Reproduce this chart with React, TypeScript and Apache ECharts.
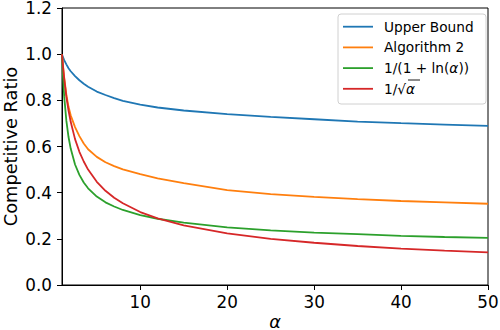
import React, { useEffect, useRef } from "react";
import * as echarts from "echarts";

const alphaValues = [1, 1.1, 1.25, 1.5, 1.75, 2, 2.5, 3, 3.5, 4, 5, 6, 7, 8, 10, 12, 15, 20, 25, 30, 35, 40, 45, 50];
const upperBound = [1.0, 0.988, 0.974, 0.956, 0.939, 0.926, 0.905, 0.887, 0.872, 0.859, 0.838, 0.823, 0.81, 0.798, 0.781, 0.769, 0.756, 0.74, 0.728, 0.718, 0.708, 0.701, 0.695, 0.689];
const algorithm2 = [1.0, 0.955, 0.9, 0.825, 0.772, 0.735, 0.684, 0.645, 0.613, 0.588, 0.555, 0.532, 0.515, 0.501, 0.48, 0.462, 0.441, 0.411, 0.394, 0.382, 0.372, 0.364, 0.358, 0.352];
const logBound = [1.0, 0.913, 0.818, 0.712, 0.641, 0.591, 0.522, 0.477, 0.444, 0.419, 0.383, 0.358, 0.34, 0.325, 0.303, 0.287, 0.27, 0.25, 0.237, 0.227, 0.22, 0.213, 0.208, 0.204];
const sqrtBound = [1.0, 0.953, 0.894, 0.816, 0.756, 0.707, 0.632, 0.577, 0.535, 0.5, 0.447, 0.408, 0.378, 0.354, 0.316, 0.289, 0.258, 0.224, 0.2, 0.183, 0.169, 0.158, 0.149, 0.141];

const xTicks = [10, 20, 30, 40, 50];
const seriesNames = ["Upper Bound", "Algorithm 2", "1/(1 + ln(α))", "1/√α"];
const seriesColors = ["#1f77b4", "#ff7f0e", "#2ca02c", "#d62728"];
const seriesValues = [upperBound, algorithm2, logBound, sqrtBound];

const FONT = "DejaVu Sans";
const LEG_FS = 13.7;

export default function App() {
  const ref = useRef<HTMLDivElement>(null);
  useEffect(() => {
    if (!ref.current) return;
    const chart = echarts.init(ref.current, undefined, { renderer: "svg" });

    const legendX = 338;
    const legendY = 14;
    const rowH = 20.7;
    const firstRow = 26.7;
    const legendGraphics: any[] = [
      {
        type: "rect",
        shape: { x: legendX, y: legendY, width: 148, height: 90, r: 3 },
        style: { fill: "rgba(255,255,255,0.8)", stroke: "#d0d0d0", lineWidth: 1 },
        z: 10,
      },
    ];
    seriesNames.forEach((name, i) => {
      const cy = firstRow + i * rowH;
      legendGraphics.push({
        type: "line",
        shape: { x1: 343, y1: cy, x2: 373, y2: cy },
        style: { stroke: seriesColors[i], lineWidth: 1.8 },
        z: 11,
      });
      let text = name;
      if (i === 2) text = "{n|1/(1 + ln(}{i|α}{n|))}";
      if (i === 3) text = "{n|1/√}{i|α}";
      legendGraphics.push({
        type: "text",
        x: 384,
        y: cy,
        style: {
          text,
          fill: "#000",
          fontFamily: FONT,
          fontSize: LEG_FS,
          verticalAlign: "middle",
          align: "left",
          rich: {
            n: { fontFamily: FONT, fontSize: LEG_FS, fill: "#000" },
            i: { fontFamily: FONT, fontSize: LEG_FS, fontStyle: "italic", fill: "#000" },
          },
        },
        z: 11,
      });
    });
    const sqY = firstRow + 3 * rowH - 8.8;
    legendGraphics.push({
      type: "line",
      shape: { x1: 408, y1: sqY, x2: 420, y2: sqY },
      style: { stroke: "#000", lineWidth: 0.9 },
      z: 11,
    });

    chart.setOption({
      animation: false,
      backgroundColor: "#fff",
      grid: {
        left: 62,
        right: 12,
        top: 8,
        bottom: 45,
        containLabel: false,
        outerBoundsMode: "none",
        show: true,
        borderColor: "#000",
        borderWidth: 1,
        backgroundColor: "transparent",
      },
      xAxis: {
        type: "value",
        min: 1,
        max: 50,
        name: "α",
        nameLocation: "middle",
        nameGap: 29,
        nameMoveOverlap: false,
        nameTextStyle: { fontFamily: FONT, fontSize: 17.8, lineHeight: 15, fontStyle: "italic", color: "#000" },
        axisLine: { show: true, lineStyle: { color: "#000", width: 1 } },
        axisTick: { show: true, length: 5, lineStyle: { color: "#000", width: 1 }, customValues: xTicks },
        axisLabel: {
          fontFamily: FONT,
          fontSize: 16.8,
          color: "#000",
          margin: 8,
          customValues: xTicks,
        },
        splitLine: { show: false },
      },
      yAxis: {
        type: "value",
        min: 0,
        max: 1.2,
        interval: 0.2,
        name: "Competitive Ratio",
        nameLocation: "middle",
        nameGap: 43,
        nameMoveOverlap: false,
        nameTextStyle: { fontFamily: FONT, fontSize: 17.8, lineHeight: 18, color: "#000" },
        axisLine: { show: true, lineStyle: { color: "#000", width: 1 } },
        axisTick: { show: true, length: 5, lineStyle: { color: "#000", width: 1 } },
        axisLabel: {
          fontFamily: FONT,
          fontSize: 16.8,
          lineHeight: 14,
          color: "#000",
          margin: 10,
          formatter: (v: number) => v.toFixed(1),
        },
        splitLine: { show: false },
      },
      series: seriesValues.map((vals, i) => ({
        name: seriesNames[i],
        type: "line",
        data: alphaValues.map((a, j) => [a, vals[j]]),
        showSymbol: false,
        symbol: "none",
        smooth: false,
        lineStyle: { color: seriesColors[i], width: 1.8 },
        itemStyle: { color: seriesColors[i] },
        z: 2 + i,
      })),
      graphic: legendGraphics,
    });
    return () => chart.dispose();
  }, []);
  return (
    <div
      ref={ref}
      style={{ position: "fixed", left: 0, top: 0, width: 500, height: 330 }}
    />
  );
}
